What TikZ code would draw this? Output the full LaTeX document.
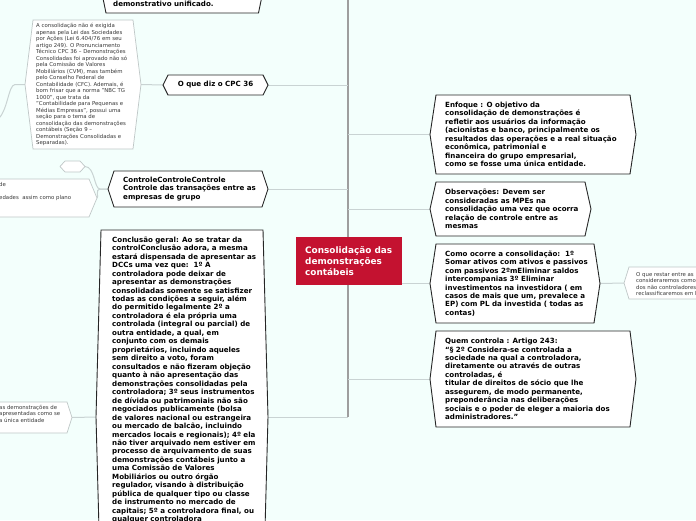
\documentclass[tikz,border=0pt]{standalone}
\usepackage{fontspec}
\setmainfont{DejaVu Sans}
\usetikzlibrary{calc}
\pgfdeclarelayer{back}
\pgfdeclarelayer{links}
\pgfdeclarelayer{frames}
\pgfsetlayers{back,links,frames,main}
\definecolor{bgc}{HTML}{F3FFFC}
\definecolor{rootred}{HTML}{C41230}
\definecolor{trunkc}{HTML}{9E9E9E}
\definecolor{linkc}{HTML}{C9D3D3}
\definecolor{notec}{HTML}{BFC7C7}
\definecolor{notetextc}{HTML}{3A3A3A}
\tikzset{
  hexbox/.style={inner sep=0pt, outer sep=0pt},
  bodytext/.style={font=\fontsize{7.1}{8.47}\selectfont\bfseries, align=left, inner sep=0pt, anchor=west, text=black},
  notetext/.style={font=\fontsize{5.4}{6.5}\selectfont, align=left, inner sep=0pt, anchor=west, text=notetextc},
  topicframe/.style={draw=black!85, line width=0.9pt, fill=white, line join=miter},
  noteframe/.style={draw=notec, line width=0.7pt, fill=white},
  link/.style={draw=linkc, line width=1pt},
  trunk/.style={draw=trunkc, line width=2.2pt},
  rootbox/.style={fill=rootred, inner sep=0pt, minimum width=106pt, minimum height=48pt},
  roottext/.style={font=\fontsize{8.9}{11.3}\selectfont\bfseries, text=white, align=left, inner sep=0pt, anchor=west}
}
\newcommand\hexframe[3]{%
  \begin{pgfonlayer}{frames}
  \draw[#1] ([xshift=#3]#2.north west) -- ([xshift=-#3]#2.north east) -- (#2.east)
    -- ([xshift=-#3]#2.south east) -- ([xshift=#3]#2.south west) -- (#2.west) -- cycle;
  \end{pgfonlayer}}
\begin{document}
\begin{tikzpicture}[x=1pt,y=-1pt]
\useasboundingbox (0,0) rectangle (696,520);
\begin{pgfonlayer}{back}
\fill[bgc] (0,0) rectangle (696,520);
\end{pgfonlayer}

% ---------- root ----------
\node[rootbox] (root) at (349,261) {};
\node[roottext] (roott) at (305,261) {Consolidação das\\demonstrações\\contábeis};

% ---------- top (clipped) ----------
\node[hexbox, minimum width=167.5pt, minimum height=73pt] (topb) at (182.25,-23.5) {};
\hexframe{topicframe}{topb}{7.5pt}
\node[bodytext, anchor=base west] (topt) at (113,6.5) {demonstrativo unificado.};

% ---------- left side ----------
\node[hexbox, minimum width=105pt, minimum height=20pt] (cpc) at (215.5,85) {};
\hexframe{topicframe}{cpc}{5pt}
\node[bodytext, anchor=center] (cpct) at (215.5,85) {O que diz o CPC 36};

\node[hexbox, minimum width=116pt, minimum height=129pt] (bign) at (83,84.5) {};
\hexframe{noteframe}{bign}{8pt}
\node[notetext] (bignt) at (36,84.5) {A consolidação não é exigida\\apenas pela Lei das Sociedades\\por Ações (Lei 6.404/76 em seu\\artigo 249). O Pronunciamento\\Técnico CPC 36 – Demonstrações\\Consolidadas foi aprovado não só\\pela Comissão de Valores\\Mobiliários (CVM), mas também\\pelo Conselho Federal de\\Contabilidade (CFC). Ademais, é\\bom frisar que a norma "NBC TG\\1000", que trata da\\"Contabilidade para Pequenas e\\Médias Empresas", possui uma\\seção para o tema de\\consolidação das demonstrações\\contábeis (Seção 9 –\\Demonstrações Consolidadas e\\Separadas).};
\coordinate (offl) at (-3,120);

\node[hexbox, minimum width=160pt, minimum height=36pt] (ctrl) at (188,189) {};
\hexframe{topicframe}{ctrl}{6pt}
\node[bodytext] (ctrlt) at (123,189) {ControleControleControle\\Controle das transações entre as\\empresas de grupo};

\node[hexbox, minimum width=25pt, minimum height=11pt] (smallh) at (72.5,166.5) {};
\hexframe{noteframe}{smallh}{5pt}

\node[hexbox, minimum width=137pt, minimum height=38pt] (ctrln) at (28.5,198) {};
\hexframe{noteframe}{ctrln}{8pt}
\node[notetext] (ctrlnt) at (-1,192) {de\\[6.5pt]edades\ \ assim como plano};

\node[hexbox, minimum width=172pt, minimum height=374pt] (concl) at (182,417) {};
\hexframe{topicframe}{concl}{5pt}
\node[bodytext, anchor=north west] (conclt) at (112,236.5) {Conclusão geral: Ao se tratar da\\controlConclusão adora, a mesma\\estará dispensada de apresentar as\\DCCs uma vez que:\ \ 1º A\\controladora pode deixar de\\apresentar as demonstrações\\consolidadas somente se satisfizer\\todas as condições a seguir, além\\do permitido legalmente 2º a\\controladora é ela própria uma\\controlada (integral ou parcial) de\\outra entidade, a qual, em\\conjunto com os demais\\proprietários, incluindo aqueles\\sem direito a voto, foram\\consultados e não fizeram objeção\\quanto à não apresentação das\\demonstrações consolidadas pela\\controladora; 3º seus instrumentos\\de dívida ou patrimoniais não são\\negociados publicamente (bolsa\\de valores nacional ou estrangeira\\ou mercado de balcão, incluindo\\mercados locais e regionais); 4º ela\\não tiver arquivado nem estiver em\\processo de arquivamento de suas\\demonstrações contábeis junto a\\uma Comissão de Valores\\Mobiliários ou outro órgão\\regulador, visando à distribuição\\pública de qualquer tipo ou classe\\de instrumento no mercado de\\capitais; 5º a controladora final, ou\\qualquer controladora};

\node[hexbox, minimum width=132pt, minimum height=31pt] (concln) at (6,417.5) {};
\hexframe{noteframe}{concln}{5pt}
\node[notetext] (conclnt) at (-1,413.5) {as demonstrações de\\apresentadas como se\\a única entidade};

% ---------- right side ----------
\node[hexbox, minimum width=206pt, minimum height=79pt] (enf) at (533,134.5) {};
\hexframe{topicframe}{enf}{6pt}
\node[bodytext] (enft) at (445,134.5) {Enfoque : O objetivo da\\consolidação de demonstrações é\\refletir aos usuários da informação\\(acionistas e banco, principalmente os\\resultados das operações e a real situação\\econômica, patrimonial e\\financeira do grupo empresarial,\\como se fosse uma única entidade.};

\node[hexbox, minimum width=161pt, minimum height=54pt] (obs) at (510.5,209) {};
\hexframe{topicframe}{obs}{6pt}
\node[bodytext] (obst) at (445,209) {Observações: Devem ser\\consideradas as MPEs na\\consolidação uma vez que ocorra\\relação de controle entre as\\mesmas};

\node[hexbox, minimum width=170pt, minimum height=79pt] (como) at (515,283.5) {};
\hexframe{topicframe}{como}{6pt}
\node[bodytext] (comot) at (445,283.5) {Como ocorre a consolidação:\ \ 1º\\Somar ativos com ativos e passivos\\com passivos 2ºmEliminar saldos\\intercompanias 3º Eliminar\\investimentos na investidora ( em\\casos de mais que um, prevalece a\\EP) com PL da investida ( todas as\\contas)};

\node[hexbox, minimum width=206pt, minimum height=96pt] (quem) at (533,379) {};
\hexframe{topicframe}{quem}{6pt}
\node[bodytext] (quemt) at (445,379) {Quem controla : Artigo 243:\\“§ 2º Considera-se controlada a\\sociedade na qual a controladora,\\diretamente ou através de outras\\controladas, é\\titular de direitos de sócio que lhe\\assegurem, de modo permanente,\\preponderância nas deliberações\\sociais e o poder de eleger a maioria dos\\administradores.”};

\node[hexbox, minimum width=116pt, minimum height=32pt] (rn) at (682,283) {};
\hexframe{noteframe}{rn}{5pt}
\node[notetext] (rnt) at (636,284) {O que restar entre as\\consideraremos como\\dos não controladores\\reclassificaremos em l};

% ---------- connectors ----------
\begin{pgfonlayer}{links}
\coordinate (ttop) at (348,-5);
\coordinate (tx) at (348,0);
\draw[trunk] (root.north -| tx) -- (ttop);
\draw[trunk] (root.south -| tx) -- (concl.east -| tx);
\draw[link] (cpc.east) -- (cpc.east -| tx);
\draw[link] (ctrl.east) -- (ctrl.east -| tx);
\draw[link] (concl.east) -- (concl.east -| tx);
\draw[link] (enf.west -| tx) -- (enf.west);
\draw[link] (obs.west -| tx) -- (obs.west);
\draw[link] (quem.west -| tx) -- (quem.west);
\draw[link] (como.west -| root.east) -- (como.west);
\draw[link] (como.east) -- (rn.west);
\draw[link] (cpc.west) -- (bign.east);
\draw[link] (bign.west) -- ++(-10,0) .. controls (8,85) and (8,112) .. (offl);
\draw[link] (ctrl.west) -- ++(-8,0) .. controls (94,189) and (95,166.5) .. (smallh.east);
\draw[link] (ctrl.west) -- ++(-8,0) .. controls (95,189) and (99,198) .. (ctrln.east);
\draw[link] (concl.west) -- (concln.east);
\end{pgfonlayer}
\end{tikzpicture}
\end{document}
